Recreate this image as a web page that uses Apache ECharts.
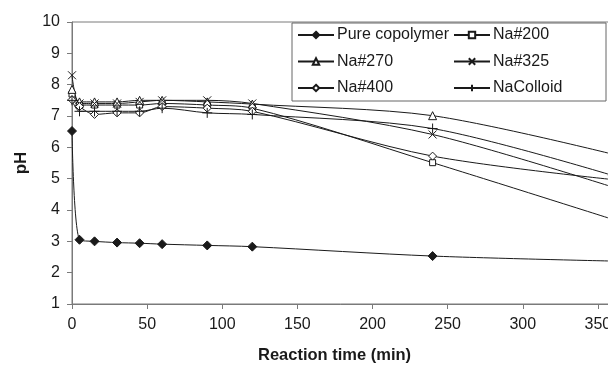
<!DOCTYPE html>
<html>
<head>
<meta charset="utf-8">
<script src="https://cdn.jsdelivr.net/npm/echarts@6/dist/echarts.min.js"></script>
<style>html,body{margin:0;padding:0;background:#fff;overflow:hidden}#c{width:608px;height:373px}</style>
</head>
<body>
<div id="c"></div>
<script>
var times = [0, 5, 15, 30, 45, 60, 90, 120, 240, 360];
var pureCopolymer = [6.52, 3.05, 3.0, 2.96, 2.94, 2.91, 2.87, 2.83, 2.53, 2.37];
var na200 = [7.7, 7.35, 7.35, 7.35, 7.35, 7.4, 7.35, 7.25, 5.51, 3.7];
var na270 = [7.85, 7.45, 7.45, 7.45, 7.5, 7.5, 7.45, 7.38, 7.01, 5.78];
var na325 = [8.3, 7.4, 7.4, 7.4, 7.45, 7.5, 7.5, 7.4, 6.41, 4.73];
var na400 = [7.52, 7.3, 7.05, 7.1, 7.1, 7.3, 7.25, 7.15, 5.72, 4.97];
var naColloid = [7.5, 7.15, 7.15, 7.15, 7.15, 7.25, 7.1, 7.05, 6.6, 5.1];
var seriesNames = ['Pure copolymer', 'Na#200', 'Na#270', 'Na#325', 'Na#400', 'NaColloid'];
var xTicks = [0, 50, 100, 150, 200, 250, 300, 350, 400];
var yTicks = [1, 2, 3, 4, 5, 6, 7, 8, 9, 10];

function pairs(vals) { return times.map(function (t, i) { return [t, vals[i]]; }); }

var FONT = 'Liberation Sans, Arial, sans-serif';
var INK = '#1a1a1a';
var AX = '#7a7a7a';

function mk(name, vals, symbol, size, fill) {
  return {
    name: name, type: 'line', data: pairs(vals), smooth: 0.3,
    symbol: symbol, symbolSize: size,
    lineStyle: { color: INK, width: 1 },
    itemStyle: { color: fill, borderColor: INK, borderWidth: 1 },
    emphasis: { disabled: true }, z: 2
  };
}

var legendCommon = {
  orient: 'vertical', top: 27, itemWidth: 36, itemHeight: 8, itemGap: 10.5, padding: 0, z: 60,
  textStyle: { fontFamily: FONT, fontSize: 16, color: INK, lineHeight: 16, padding: [0, 0, 0, -2] },
  selectedMode: false
};

var chart = echarts.init(document.getElementById('c'), null, { renderer: 'canvas' });
chart.setOption({
  animation: false,
  grid: { left: 72, top: 22, bottom: 69, right: -65, show: true, borderColor: AX, borderWidth: 1,
          containLabel: false, outerBoundsMode: 'none' },
  title: {
    text: 'Reaction time (min)', left: 258, top: 347, padding: 0,
    textStyle: { fontFamily: FONT, fontSize: 16.5, fontWeight: 'bold', color: INK }
  },
  xAxis: {
    type: 'value', min: xTicks[0], max: xTicks[xTicks.length - 1], interval: 50,
    axisLine: { lineStyle: { color: AX } },
    axisTick: { show: true, inside: false, length: 5, lineStyle: { color: AX } },
    splitLine: { show: false },
    axisLabel: { margin: 13, fontFamily: FONT, fontSize: 16, color: INK }
  },
  yAxis: {
    type: 'value', min: yTicks[0], max: yTicks[yTicks.length - 1], interval: 1,
    name: 'pH', nameLocation: 'middle', nameGap: 42,
    nameTextStyle: { fontFamily: FONT, fontSize: 17, fontWeight: 'bold', color: INK },
    axisLine: { show: true, lineStyle: { color: AX } },
    axisTick: { show: true, inside: false, length: 5, lineStyle: { color: AX } },
    splitLine: { show: false },
    axisLabel: { margin: 12, fontFamily: FONT, fontSize: 16, color: INK }
  },
  graphic: [{
    type: 'rect', z: 50, shape: { x: 292, y: 23, width: 314, height: 78 },
    style: { fill: '#fff', stroke: '#666', lineWidth: 1 }
  }],
  legend: [
    Object.assign({ data: [seriesNames[0], seriesNames[2], seriesNames[4]], left: 297 }, legendCommon),
    Object.assign({ data: [seriesNames[1], seriesNames[3], seriesNames[5]], left: 453 }, legendCommon)
  ],
  series: [
    mk(seriesNames[0], pureCopolymer, 'diamond', 9, INK),
    mk(seriesNames[1], na200, 'rect', 6, '#fff'),
    mk(seriesNames[2], na270, 'triangle', 8, '#fff'),
    mk(seriesNames[3], na325, 'path://M0,0L10,10M10,0L0,10', 8, 'none'),
    mk(seriesNames[4], na400, 'diamond', 8, '#fff'),
    mk(seriesNames[5], naColloid, 'path://M5,0L5,10M0,5L10,5', 10, 'none')
  ]
});
</script>
</body>
</html>
